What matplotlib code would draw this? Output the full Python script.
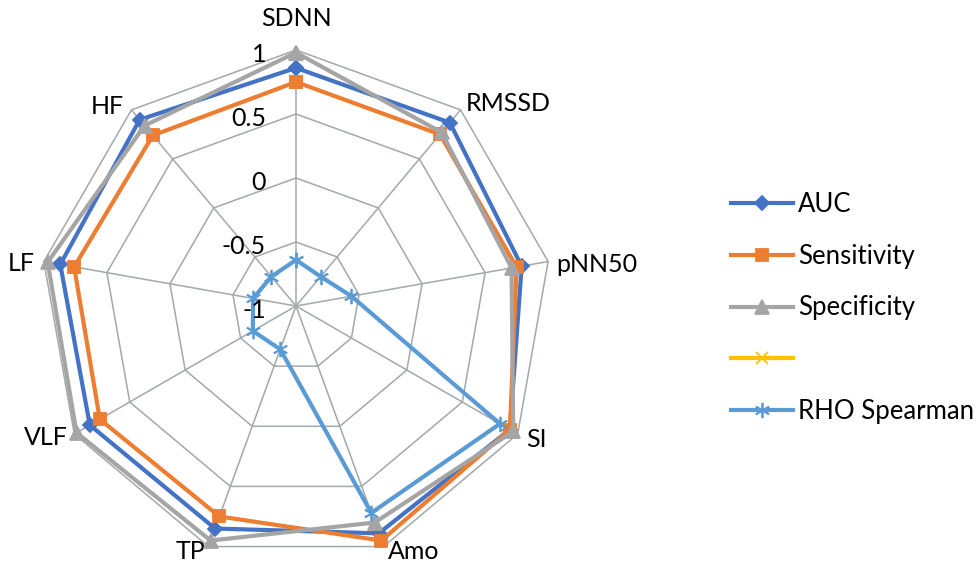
import numpy as np
import matplotlib
matplotlib.use('Agg')
import matplotlib.pyplot as plt
from matplotlib.lines import Line2D

# data
categories = ['SDNN', 'RMSSD', 'pNN50', 'SI', 'Amo', 'TP', 'VLF', 'LF', 'HF']
auc = [0.86, 0.87, 0.79, 0.93, 0.89, 0.85, 0.86, 0.87, 0.90]
sensitivity = [0.75, 0.75, 0.75, 0.93, 0.95, 0.75, 0.77, 0.76, 0.74]
specificity = [0.98, 0.77, 0.71, 0.96, 0.80, 0.95, 0.98, 0.97, 0.84]
blank = [np.nan] * 9
rho = [-0.64, -0.70, -0.56, 0.84, 0.72, -0.64, -0.61, -0.66, -0.70]

tick_values = [-1, -0.5, 0, 0.5, 1]
tick_labels = ['-1', '-0.5', '0', '0.5', '1']

plt.rcParams['font.family'] = ['Lato', 'DejaVu Sans']
fs = 18

n = len(categories)
angles = np.linspace(0, 2 * np.pi, n, endpoint=False)
closed = np.append(angles, angles[0])


def close(v):
    return list(v) + [v[0]]


fig = plt.figure(figsize=(9.79, 5.63), dpi=100)
ax = fig.add_axes([40 / 979, 1 / 563, 512 / 979, 512 / 563], projection='polar')
ax.set_theta_zero_location('N')
ax.set_theta_direction(-1)
ax.set_ylim(-1, 1)
ax.set_xticks([])
ax.set_yticks([])
ax.grid(False)
ax.spines['polar'].set_visible(False)

##grid poligonal
grid_color = '#a2a9ab'
for lvl in tick_values[1:]:
    ax.plot(closed, [lvl] * (n + 1), color=grid_color, lw=1.1, zorder=1, clip_on=False)
for a in angles:
    ax.plot([a, a], [-1, 1], color=grid_color, lw=1.1, zorder=1, clip_on=False)

##series
series = [
    ('AUC', auc, '#4472C4', 'D', 7),
    ('Sensitivity', sensitivity, '#ED7D31', 's', 9),
    ('Specificity', specificity, '#A5A5A5', '^', 10),
    ('', blank, '#FFC000', 'x', 9),
    ('RHO Spearman', rho, '#5B9BD5', (6, 2, 0), 11),
]
handles = []
labels = []
for i, (lab, vals, col, mk, ms) in enumerate(series):
    ax.plot(closed, close(vals), color=col, lw=3, marker=mk, markersize=ms,
            markeredgewidth=1.3, zorder=3 + i, clip_on=False)
    handles.append(Line2D([], [], color=col, lw=3, marker=mk, markersize=ms, markeredgewidth=1.3))
    labels.append(lab)

##rotulos do eixo radial
for lvl, lab in zip(tick_values, tick_labels):
    ax.annotate(lab, xy=(0, lvl), xytext=(-30, -4), textcoords='offset pixels',
                ha='right', va='center', fontsize=fs, color='black', zorder=10)

##rotulos das categorias
offsets = {
    'SDNN': ((0, 32), 'center', 'center'),
    'RMSSD': ((5, 6), 'left', 'center'),
    'pNN50': ((8, -3), 'left', 'center'),
    'SI': ((8, -6), 'left', 'center'),
    'Amo': ((4, -5), 'left', 'center'),
    'TP': ((-3, -5), 'right', 'center'),
    'VLF': ((-7, -3), 'right', 'center'),
    'LF': ((-9, -2), 'right', 'center'),
    'HF': ((-8, 3), 'right', 'center'),
}
for a, cat in zip(angles, categories):
    off, ha, va = offsets[cat]
    ax.annotate(cat, xy=(a, 1), xytext=off, textcoords='offset pixels',
                ha=ha, va=va, fontsize=fs, color='black', annotation_clip=False)

fig.legend(handles, labels, loc='center left', bbox_to_anchor=(731 / 979, 255 / 563),
           frameon=False, fontsize=18.5, handlelength=2.4, handletextpad=0.2,
           labelspacing=1.05, borderpad=0, borderaxespad=0)

plt.savefig('out.png', dpi=100)
